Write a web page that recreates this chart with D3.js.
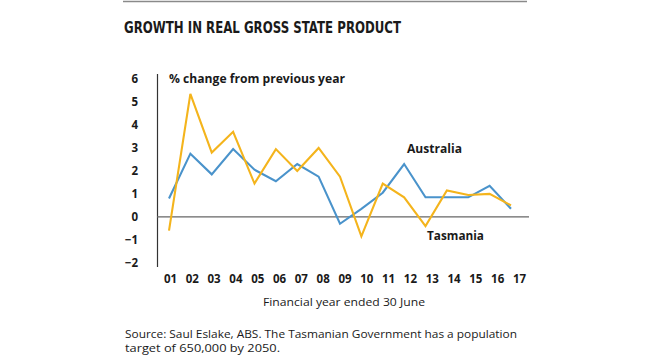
<!DOCTYPE html>
<html><head><meta charset="utf-8">
<script src="https://cdn.jsdelivr.net/npm/d3@7"></script>
<style>html,body{margin:0;padding:0;background:#fff;}svg{display:block;}</style>
</head><body>
<script>
const years = ["01","02","03","04","05","06","07","08","09","10","11","12","13","14","15","16","17"];
const australia = [0.8,2.75,1.85,2.95,2.05,1.55,2.3,1.75,-0.3,0.35,1.05,2.3,0.85,0.85,0.85,1.35,0.35];
const tasmania = [-0.6,5.35,2.8,3.7,1.45,2.95,2.0,3.0,1.75,-0.85,1.45,0.85,-0.4,1.15,0.95,1.0,0.5];
const yTicks = [-2,-1,0,1,2,3,4,5,6];
const title = "GROWTH IN REAL GROSS STATE PRODUCT";
const yLabel = "% change from previous year";
const xLabel = "Financial year ended 30 June";
const source = ["Source: Saul Eslake, ABS. The Tasmanian Government has a population","target of 650,000 by 2050."];

const W=650,H=359;
const svg=d3.select("body").append("svg").attr("width",W).attr("height",H);
const blue="#4a93cb", yellow="#f4b41c";
const font="'Open Sans', Lato, sans-serif";

svg.append("line").attr("x1",123).attr("x2",527).attr("y1",1.5).attr("y2",1.5).attr("stroke","#8a8a8a").attr("stroke-width",1.5);
svg.append("text").attr("x",124).attr("y",33).text(title)
  .attr("font-family","'DejaVu Sans', sans-serif").attr("font-weight","bold").attr("font-size",15)
  .attr("textLength",277).attr("lengthAdjust","spacingAndGlyphs").attr("fill","#1a1a1a");

const x=d3.scalePoint().domain(years).range([169,511]);
const xLab=d3.scalePoint().domain(years).range([170,519]);
const y=d3.scaleLinear().domain([-2,6]).range([262.8,79]);

svg.append("line").attr("x1",157.5).attr("x2",157.5).attr("y1",74).attr("y2",267).attr("stroke","#333").attr("stroke-width",1.2);
svg.append("line").attr("x1",157).attr("x2",529).attr("y1",y(0)).attr("y2",y(0)).attr("stroke","#666").attr("stroke-width",1.2);

const yAxis=d3.axisLeft(y).tickValues(yTicks).tickSize(0).tickPadding(0).tickFormat(d3.format("d"));
const gy=svg.append("g").attr("transform","translate(138,0)").call(yAxis);
gy.select(".domain").remove();
gy.selectAll("text").attr("font-family",font).attr("font-weight","bold").attr("font-size",11.5).attr("fill","#1a1a1a");

const xAxis=d3.axisBottom(xLab).tickSize(0).tickPadding(0);
const gx=svg.append("g").attr("transform","translate(0,275)").call(xAxis);
gx.select(".domain").remove();
gx.selectAll("text").attr("font-family",font).attr("font-weight","bold").attr("font-size",11.5).attr("fill","#1a1a1a");

const line=d3.line().x((d,i)=>x(years[i])).y(d=>y(d));
svg.append("path").datum(australia).attr("d",line).attr("fill","none").attr("stroke",blue).attr("stroke-width",2.1);
svg.append("path").datum(tasmania).attr("d",line).attr("fill","none").attr("stroke",yellow).attr("stroke-width",2.1);

function lab(t,x0,y0,len,bold,size,anchor){
  return svg.append("text").attr("x",x0).attr("y",y0).text(t).attr("font-family",font)
    .attr("font-weight",bold?"bold":"normal").attr("font-size",size).attr("fill","#1a1a1a")
    .attr("text-anchor",anchor||"start").attr("textLength",len).attr("lengthAdjust","spacingAndGlyphs");
}
lab(yLabel,169,83,176,true,11.5);
lab("Australia",407,153,55,true,11.5);
lab("Tasmania",427,240,57,true,11.5);
lab(xLabel,263,306,162,false,11.5);
lab(source[0],125,337.5,392,false,10.5);
lab(source[1],125,352,155,false,10.5);
</script>
</body></html>
